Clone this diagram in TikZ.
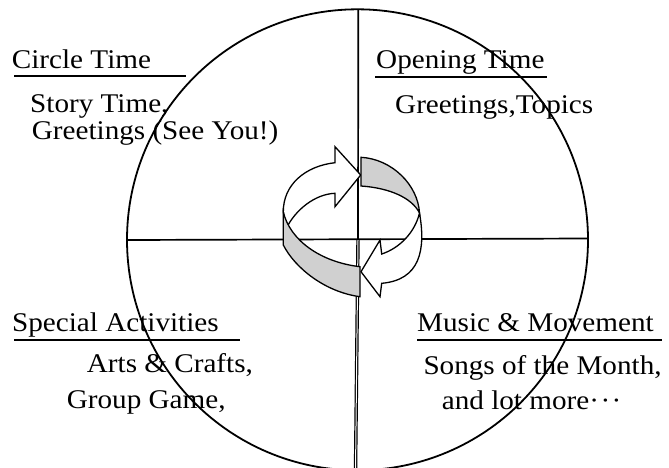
\documentclass[tikz,border=0pt]{standalone}
\usepackage{fontspec}
\setmainfont{Liberation Serif}[FakeStretch=1.08]
\definecolor{ringgray}{RGB}{208,208,208}
\begin{document}
\begin{tikzpicture}[x=1pt,y=-1pt,
  lbl/.style={anchor=base west, inner sep=0pt, font=\fontsize{27}{30}\selectfont},
  rule/.style={line width=2.3pt},
  divider/.style={line width=1.7pt},
  ring/.style={line width=1.3pt, line join=miter, draw=black}]
\useasboundingbox (0,0) rectangle (669,467);
\clip (0,0) rectangle (669,467);
% big circle and dividers
\draw[line width=1.8pt] (357.5,239.8) circle[radius=230.5pt];
\draw[divider] (127,240) -- (587,238.5);
\draw[divider] (358.3,9.5) -- (358,240);
\draw[line width=1.2pt, double=white, double distance=1pt] (358,240) -- (355.5,472);
% labels
\node[lbl] (ct)  at (11.7,68.3)  {Circle Time};
\draw[rule] (14,76) -- (186,76);
\node[lbl] (ct1) at (30,112.3)   {Story Time,};
\node[lbl] (ct2) at (31.7,139)   {Greetings (See You!)};
\node[lbl] (ot)  at (376,68.3)   {Opening Time};
\draw[rule] (375,76.7) -- (546.7,76.7);
\node[lbl] (ot1) at (395,113.3)  {Greetings,Topics};
\node[lbl] (sa)  at (12,331)     {Special Activities};
\draw[rule] (14,340) -- (240,340);
\node[lbl] (sa1) at (86.7,372.7) {Arts \& Crafts,};
\node[lbl] (sa2) at (66.7,408.3) {Group Game,};
\node[lbl] (mm)  at (417,331)    {Music \& Movement};
\draw[rule] (417,340) -- (662,340);
\node[lbl] (mm1) at (423.3,374)  {Songs of the Month,};
\node[lbl] (mm2) at (441.7,409.3) {and lot more\textperiodcentered\kern1.5pt\textperiodcentered\kern1.5pt\textperiodcentered};
% circular arrows in the centre
\draw[ring, fill=white] (283.3,212) .. controls (283,185) and (305,166) .. (335,162.7)
  -- (335,146.7) -- (360.7,175) -- (335,206.7) -- (335,193.3)
  .. controls (315,194) and (295,210) .. (286,229) -- cycle;
\draw[ring, fill=ringgray] (361,157.3) .. controls (392,159) and (418,185) .. (419.5,213)
  .. controls (412,198) and (390,188) .. (361,186) -- cycle;
\draw[ring, fill=white] (419.5,213) .. controls (426,250) and (420,280) .. (381.7,283.3)
  -- (380,296.7) -- (361,271.7) -- (380,240) -- (381.7,254)
  .. controls (400,248) and (415,232) .. (419.5,213) -- cycle;
\draw[ring, fill=ringgray] (283.3,212) .. controls (290,240) and (320,262) .. (360,266.7)
  -- (360,296.7) .. controls (325,292) and (295,268) .. (283.3,245) -- cycle;
\end{tikzpicture}
\end{document}
